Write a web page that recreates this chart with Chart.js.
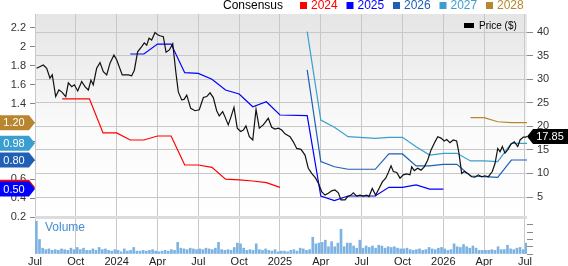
<!DOCTYPE html>
<html>
<head>
<meta charset="utf-8">
<script src="https://cdn.jsdelivr.net/npm/chart.js@4.4.0/dist/chart.umd.min.js"></script>
<style>
  html, body { margin: 0; padding: 0; background: #fff; }
</style>
</head>
<body>
<canvas id="priceConsensus" width="568" height="266"></canvas>
<script>
// x values are months since Jul 1 2023
const quarterMonths = [0, 3, 6, 9, 12, 15, 18, 21, 24, 27, 30, 33, 36];
const quarterLabels = ["Jul", "Oct", "2024", "Apr", "Jul", "Oct", "2025", "Apr", "Jul", "Oct", "2026", "Apr", "Jul"];

const epsTicks = [0.2, 0.4, 0.6, 0.8, 1.0, 1.2, 1.4, 1.6, 1.8, 2.0, 2.2];
const priceTicks = [5, 10, 15, 20, 25, 30, 35, 40];
const volumeTicks = [0, 10000, 20000, 30000, 40000];

const priceMonths = [0.12, 0.61, 0.86, 1.10, 1.27, 1.52, 1.76, 1.96, 2.26, 2.45, 2.70, 2.89, 3.14, 3.43, 3.67, 3.92,
  4.11, 4.28, 4.53, 4.78, 5.02, 5.27, 5.51, 5.80, 6.00, 6.41, 6.86, 7.10, 7.30, 7.54, 7.84, 8.03, 8.21, 8.38, 8.57,
  8.82, 9.02, 9.18, 9.43, 9.63, 9.87, 10.12, 10.36, 10.53, 10.78, 10.95, 11.15, 11.44, 11.76, 12.07, 12.37, 12.62,
  12.86, 13.10, 13.35, 13.54, 13.79, 13.96, 14.20, 14.40, 14.62, 14.86, 15.11, 15.31, 15.50, 15.75, 16.00, 16.24,
  16.48, 16.77, 17.14, 17.39, 17.63, 17.88, 18.13, 18.37, 18.74, 18.98, 19.23, 19.54, 19.84, 20.08, 20.33, 20.62,
  20.82, 21.07, 21.31, 21.55, 21.80, 22.04, 22.29, 22.48, 22.78, 22.98, 23.22, 23.39, 23.64, 23.88, 24.12, 24.37,
  24.54, 24.78, 25.03, 25.28, 25.52, 25.77, 25.96, 26.16, 26.33, 26.58, 26.82, 27.06, 27.31, 27.55, 27.68, 27.87,
  28.12, 28.36, 28.60, 28.85, 29.10, 29.39, 29.59, 29.83, 30.07, 30.25, 30.49, 30.73, 30.98, 31.15, 31.35, 31.54,
  31.84, 32.09, 32.33, 32.57, 32.82, 33.06, 33.31, 33.60, 33.80, 34.00, 34.17, 34.34, 34.53, 34.73, 34.97, 35.22,
  35.47, 35.64, 35.88, 36.05, 36.15];
const priceValues = [32.3, 33.0, 32.3, 30.2, 30.9, 26.3, 27.7, 27.3, 26.3, 29.2, 28.4, 28.8, 27.5, 29.5, 28.4, 27.7,
  29.8, 28.8, 32.3, 33.5, 31.6, 30.9, 33.4, 35.1, 34.1, 30.9, 30.9, 30.7, 31.9, 35.8, 36.9, 37.7, 37.2, 38.7, 38.3,
  39.9, 39.4, 39.2, 39.0, 35.7, 36.2, 37.5, 31.2, 27.3, 25.6, 25.7, 26.6, 23.8, 23.3, 23.5, 26.1, 26.3,
  27.1, 26.1, 23.3, 22.2, 23.1, 22.0, 20.3, 22.0, 24.0, 19.6, 18.9, 19.2, 20.1, 17.8, 17.1, 23.6,
  19.6, 20.3, 21.7, 19.8, 19.4, 19.6, 19.2, 18.4, 17.8, 16.7, 15.3, 15.1, 13.9, 11.1, 10.0, 9.0,
  7.9, 6.1, 5.4, 5.8, 6.3, 6.5, 5.9, 4.4, 4.4, 5.1, 5.4, 5.9, 5.2, 5.4, 5.2, 5.4,
  5.1, 6.8, 5.4, 6.8, 8.2, 9.0, 10.2, 11.6, 10.4, 10.2, 9.0, 9.7, 9.9, 9.7, 11.4, 10.6,
  11.1, 10.7, 11.4, 12.8, 15.0, 16.7, 17.8, 17.5, 16.9, 17.2, 16.5, 17.1, 16.9, 14.3, 10.0, 10.4,
  9.9, 9.3, 9.2, 9.7, 9.3, 9.5, 9.3, 10.4, 12.1, 15.3, 14.6, 15.7, 14.3, 15.0, 16.2, 16.7,
  15.7, 17.1, 17.7, 17.7, 17.85];

const eps2024Months = [2, 4, 5, 6, 7, 8, 9, 10, 11, 12, 13, 14, 15, 16, 17, 18];
const eps2024Values = [1.45, 1.45, 1.09, 1.09, 1.015, 1.015, 1.057, 1.057, 0.75, 0.75, 0.726, 0.60, 0.592, 0.581, 0.563, 0.514];

const eps2025Months = [7, 8, 9, 10, 11, 12, 13, 14, 15, 16, 17, 18, 20, 21, 22, 23, 25, 26, 27, 28, 29, 30];
const eps2025Values = [1.925, 1.925, 2.03, 2.03, 1.727, 1.72, 1.657, 1.544, 1.502, 1.367, 1.42, 1.279, 1.272, 0.422, 0.373, 0.422, 0.422, 0.514, 0.514, 0.539, 0.496, 0.496];

const eps2026Months = [20, 21, 22, 23, 25, 26, 27, 28, 29, 30, 31, 32, 33, 34, 35, 36.15];
const eps2026Values = [1.756, 0.786, 0.732, 0.705, 0.705, 0.867, 0.867, 0.74, 0.74, 0.757, 0.757, 0.634, 0.627, 0.62, 0.803, 0.803];

const eps2027Months = [20, 21, 22, 23, 25, 26, 27, 28, 29, 30, 31, 32, 33, 34, 35, 36.15];
const eps2027Values = [2.161, 1.226, 1.149, 1.05, 1.033, 1.043, 1.043, 0.944, 0.856, 0.874, 0.874, 0.793, 0.793, 0.786, 0.98, 0.98];

const eps2028Months = [32, 33, 34, 35, 36.15];
const eps2028Values = [1.251, 1.251, 1.208, 1.198, 1.198];

// weekly volume in thousands, first week = Jul 2023
const volumeK = [
  45, 20, 8, 6, 7, 5, 6, 5, 7, 6, 5, 8, 6,
  9, 6, 8, 5, 5, 7, 5, 9, 6, 7, 5, 4, 6,
  5, 3, 7, 4, 5, 9, 4, 4, 5, 4, 5, 6, 4,
  3, 4, 5, 4, 6, 5, 16, 8, 7, 6, 8, 7, 6,
  7, 6, 8, 7, 6, 8, 16, 6, 5, 6, 5, 9, 15,
  14, 8, 5, 6, 5, 14, 6, 5, 7, 5, 4, 6, 3,
  4, 4, 3, 5, 6, 4, 8, 7, 5, 6, 23, 14, 15,
  16, 19, 10, 17, 10, 15, 34, 10, 15, 15, 11, 8, 19,
  8, 11, 9, 11, 8, 12, 11, 8, 10, 9, 10, 8, 7,
  7, 8, 6, 5, 6, 7, 5, 6, 9, 7, 6, 8, 9,
  7, 5, 6, 14, 10, 9, 13, 10, 8, 11, 8, 5, 5,
  5, 5, 6, 5, 10, 6, 6, 12, 7, 6, 8, 9, 6, 15
];

const seriesNames = ["2024", "2025", "2026", "2027", "2028"];
const seriesColors = ["#ff0000", "#0000ff", "#1f5fb4", "#3a9fd0", "#b8862e"];

const FONT = "'Liberation Sans', Arial, sans-serif";
Chart.defaults.font.family = FONT;

function pts(xs, ys) {
  return xs.map((x, i) => ({ x: x, y: ys[i] }));
}

const epsSets = [
  pts(eps2024Months, eps2024Values),
  pts(eps2025Months, eps2025Values),
  pts(eps2026Months, eps2026Values),
  pts(eps2027Months, eps2027Values),
  pts(eps2028Months, eps2028Values)
];

const volumePoints = volumeK.map((v, i) => ({ x: 0.1 + i * 12 / 52, y: v * 1000 }));

const backdrop = {
  id: "backdrop",
  beforeDraw(chart) {
    const { ctx, chartArea: a, scales } = chart;
    const sepY = scales.yEps.getPixelForValue(0.2);
    const g = ctx.createLinearGradient(0, a.top, 0, sepY);
    g.addColorStop(0, "#e5e5e5");
    g.addColorStop(0.55, "#fafafa");
    g.addColorStop(1, "#ffffff");
    ctx.save();
    ctx.fillStyle = g;
    ctx.fillRect(a.left, a.top, a.right - a.left, sepY - a.top);
    ctx.restore();
  },
  beforeDatasetsDraw(chart) {
    const { ctx, chartArea: a, scales } = chart;
    const sepY = scales.yEps.getPixelForValue(0.2);
    ctx.save();
    ctx.fillStyle = "#dcdcdc";
    ctx.fillRect(a.left, sepY - 1, a.right - a.left, 3);
    ctx.restore();
  }
};

function leftFlag(ctx, y, color, text) {
  ctx.beginPath();
  ctx.moveTo(0, y - 7.5);
  ctx.lineTo(29, y - 7.5);
  ctx.lineTo(35, y);
  ctx.lineTo(29, y + 7.5);
  ctx.lineTo(0, y + 7.5);
  ctx.closePath();
  ctx.fillStyle = color;
  ctx.fill();
  ctx.fillStyle = "#fff";
  ctx.font = "11px " + FONT;
  ctx.textAlign = "center";
  ctx.textBaseline = "middle";
  ctx.fillText(text, 14, y + 0.5);
}

const overlay = {
  id: "overlay",
  afterDraw(chart) {
    const { ctx, chartArea: a, scales } = chart;
    ctx.save();

    // top legend
    ctx.font = "12px " + FONT;
    ctx.textBaseline = "middle";
    ctx.textAlign = "left";
    ctx.fillStyle = "#000";
    ctx.fillText("Consensus", 223, 6);
    seriesNames.forEach((name, i) => {
      const tx = 311 + i * 46.5;
      ctx.fillStyle = seriesColors[i];
      ctx.fillRect(tx - 11, 2, 7, 7);
      ctx.fillText(name, tx, 6);
    });

    // price legend
    ctx.fillStyle = "#000";
    ctx.fillRect(464, 23, 10, 5);
    ctx.font = "10px " + FONT;
    ctx.fillText("Price ($)", 479, 26);

    // volume label
    ctx.font = "12px " + FONT;
    ctx.fillStyle = "#3f8fd2";
    ctx.fillText("Volume", 45, 228);

    // left value flags
    epsSets.forEach((set, i) => {
      const last = set[set.length - 1].y;
      leftFlag(ctx, scales.yEps.getPixelForValue(last), seriesColors[i], last.toFixed(2));
    });

    // price flag
    const lastPrice = priceValues[priceValues.length - 1];
    const py = scales.yPrice.getPixelForValue(lastPrice);
    ctx.beginPath();
    ctx.moveTo(a.right, py);
    ctx.lineTo(a.right + 6, py - 7.5);
    ctx.lineTo(568, py - 7.5);
    ctx.lineTo(568, py + 7.5);
    ctx.lineTo(a.right + 6, py + 7.5);
    ctx.closePath();
    ctx.fillStyle = "#000";
    ctx.fill();
    ctx.fillStyle = "#fff";
    ctx.font = "11px " + FONT;
    ctx.textAlign = "center";
    ctx.fillText(lastPrice.toFixed(2), 550, py + 0.5);

    ctx.restore();
  }
};

const datasets = [
  {
    type: "line",
    label: "Price ($)",
    data: pts(priceMonths, priceValues),
    yAxisID: "yPrice",
    borderColor: "#111",
    borderWidth: 1.2,
    pointRadius: 0,
    tension: 0
  }
];
epsSets.forEach((set, i) => {
  datasets.push({
    type: "line",
    label: seriesNames[i],
    data: set,
    yAxisID: "yEps",
    borderColor: seriesColors[i],
    borderWidth: 1.2,
    pointRadius: 0,
    tension: 0
  });
});
datasets.push({
  type: "bar",
  label: "Volume",
  data: volumePoints,
  yAxisID: "yVol",
  backgroundColor: "#7db3e2",
  barThickness: 2
});

new Chart(document.getElementById("priceConsensus").getContext("2d"), {
  type: "line",
  data: { datasets: datasets },
  plugins: [backdrop, overlay],
  options: {
    responsive: false,
    animation: false,
    devicePixelRatio: 1,
    layout: { padding: { top: 14, left: 0, right: 0, bottom: 0 } },
    plugins: { legend: { display: false }, tooltip: { enabled: false } },
    scales: {
      x: {
        type: "linear",
        position: "bottom",
        min: 0,
        max: 36.15,
        offset: false,
        afterBuildTicks: s => { s.ticks = quarterMonths.map(v => ({ value: v })); },
        afterFit: s => { s.height = 12; },
        ticks: {
          autoSkip: false,
          maxRotation: 0,
          padding: 1,
          color: "#222",
          font: { size: 11 },
          callback: (v, i) => quarterLabels[i]
        },
        grid: { color: "#c8c8c8", drawTicks: false, offset: false },
        border: { display: false }
      },
      yEps: {
        position: "left",
        min: -0.1915,
        max: 2.348,
        afterBuildTicks: s => { s.ticks = epsTicks.map(v => ({ value: v })); },
        afterFit: s => { s.width = 35; },
        ticks: {
          autoSkip: false,
          padding: 4,
          color: "#333",
          font: { size: 11 },
          callback: v => String(Number(v.toFixed(1)))
        },
        grid: { drawOnChartArea: false, drawTicks: true, tickLength: 5, tickColor: "#888" },
        border: { display: false }
      },
      yVol: {
        position: "right",
        min: 0,
        max: 330000,
        afterBuildTicks: s => { s.ticks = volumeTicks.map(v => ({ value: v })); },
        afterFit: s => { s.width = 0; },
        ticks: {
          autoSkip: false,
          padding: 2,
          color: "#333",
          font: { size: 10 },
          callback: v => (v === 0 ? "0" : (v / 1000) + "k")
        },
        grid: { drawOnChartArea: false, drawTicks: true, tickLength: 6, tickColor: "#888" },
        border: { display: false }
      },
      yPrice: {
        position: "right",
        min: -7.09,
        max: 43.82,
        afterBuildTicks: s => { s.ticks = priceTicks.map(v => ({ value: v })); },
        afterFit: s => { s.width = 41; },
        ticks: {
          autoSkip: false,
          padding: 4,
          color: "#333",
          font: { size: 11 },
          callback: v => String(v)
        },
        grid: { color: "#c8c8c8", drawTicks: true, tickLength: 6, tickColor: "#888" },
        border: { display: false }
      }
    }
  }
});
</script>
</body>
</html>
